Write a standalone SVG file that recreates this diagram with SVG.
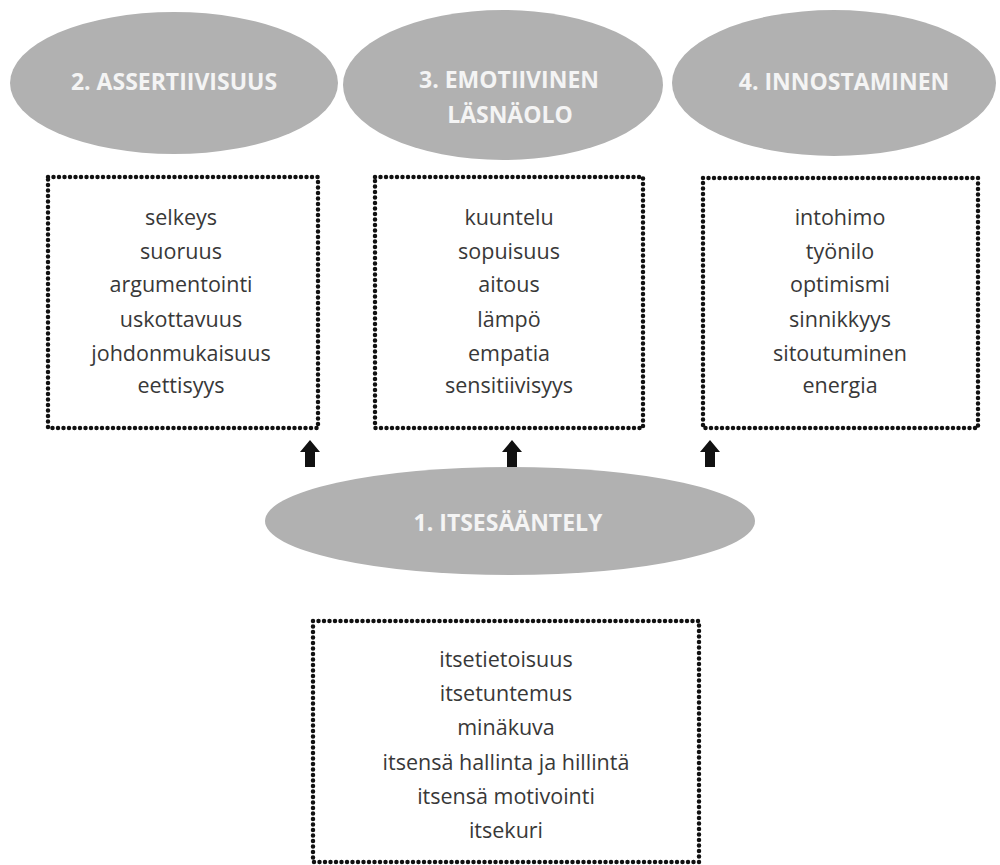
<svg xmlns="http://www.w3.org/2000/svg" width="1000" height="865" viewBox="0 0 1000 865">
<style>
.ell{fill:#b1b1b1;}
.title{font-family:"Open Sans","Liberation Sans",sans-serif;font-weight:bold;font-size:23px;fill:#f4f4f4;text-anchor:middle;}
.box{fill:none;stroke:#111;stroke-width:4.5;stroke-dasharray:0 5.5;stroke-linecap:round;}
.item{font-family:"Open Sans","Liberation Sans",sans-serif;font-size:21.5px;fill:#383838;text-anchor:middle;}
.arr{fill:#111;}
</style>
<rect width="1000" height="865" fill="#fff"/>
<g id="node-assertiivisuus">
<ellipse class="ell" cx="174" cy="83" rx="164" ry="71"/>
<text class="title" x="174" y="90">2. ASSERTIIVISUUS</text>
</g>
<g id="node-emotiivinen">
<ellipse class="ell" cx="503" cy="85" rx="160" ry="75"/>
<text class="title" x="509" y="88">3. EMOTIIVINEN</text>
<text class="title" x="510" y="123">LÄSNÄOLO</text>
</g>
<g id="node-innostaminen">
<ellipse class="ell" cx="834" cy="83" rx="162" ry="73"/>
<text class="title" x="844" y="90">4. INNOSTAMINEN</text>
</g>
<g id="box-assertiivisuus">
<rect class="box" x="48" y="177" width="270" height="251"/>
<text class="item" x="181" y="225">selkeys</text>
<text class="item" x="181" y="259">suoruus</text>
<text class="item" x="181" y="292">argumentointi</text>
<text class="item" x="181" y="327">uskottavuus</text>
<text class="item" x="181" y="361">johdonmukaisuus</text>
<text class="item" x="181" y="393">eettisyys</text>
</g>
<g id="box-emotiivinen">
<rect class="box" x="375" y="177" width="268" height="251"/>
<text class="item" x="509" y="225">kuuntelu</text>
<text class="item" x="509" y="259">sopuisuus</text>
<text class="item" x="509" y="292">aitous</text>
<text class="item" x="509" y="327">lämpö</text>
<text class="item" x="509" y="361">empatia</text>
<text class="item" x="509" y="393">sensitiivisyys</text>
</g>
<g id="box-innostaminen">
<rect class="box" x="703" y="178" width="275" height="250"/>
<text class="item" x="840" y="225">intohimo</text>
<text class="item" x="840" y="259">työnilo</text>
<text class="item" x="840" y="292">optimismi</text>
<text class="item" x="840" y="327">sinnikkyys</text>
<text class="item" x="840" y="361">sitoutuminen</text>
<text class="item" x="840" y="393">energia</text>
</g>
<g id="node-itsesaantely">
<ellipse class="ell" cx="510" cy="521" rx="245" ry="54"/>
<text class="title" x="508" y="531">1. ITSESÄÄNTELY</text>
</g>
<g id="box-itsesaantely">
<rect class="box" x="313" y="621" width="386" height="241"/>
<text class="item" x="506" y="667">itsetietoisuus</text>
<text class="item" x="506" y="701">itsetuntemus</text>
<text class="item" x="506" y="735">minäkuva</text>
<text class="item" x="506" y="770">itsensä hallinta ja hillintä</text>
<text class="item" x="506" y="804">itsensä motivointi</text>
<text class="item" x="506" y="838">itsekuri</text>
</g>
<g id="connectors">
<path class="arr" d="M310 440 L320 452 L315 452 L315 467 L305 467 L305 452 L300 452 Z"/>
<path class="arr" d="M512 440 L522 452 L517 452 L517 467 L507 467 L507 452 L502 452 Z"/>
<path class="arr" d="M710 440 L720 452 L715 452 L715 467 L705 467 L705 452 L700 452 Z"/>
</g>
</svg>
